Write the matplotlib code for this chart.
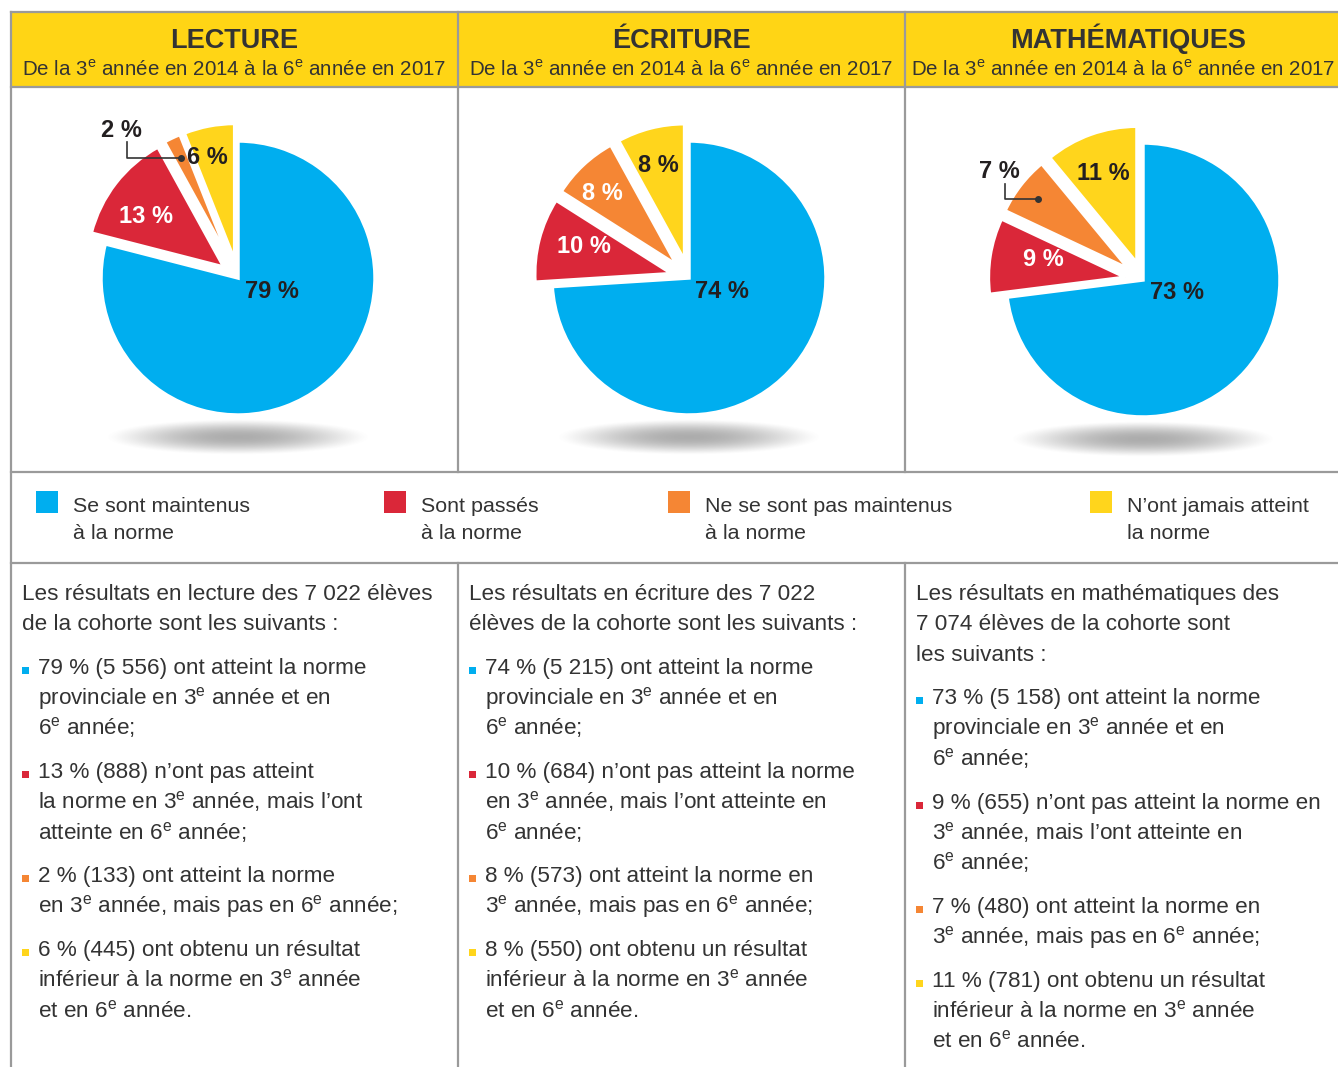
import numpy as np
import matplotlib
matplotlib.use('Agg')
import matplotlib.pyplot as plt
from matplotlib.patches import Rectangle

plt.rcParams['font.family'] = ['Liberation Sans', 'DejaVu Sans']
plt.rcParams['mathtext.fontset'] = 'custom'
plt.rcParams['mathtext.rm'] = 'Liberation Sans'
plt.rcParams['mathtext.bf'] = 'Liberation Sans:bold'

# Données
SUJETS = ['LECTURE', 'ÉCRITURE', 'MATHÉMATIQUES']
SOUS_TITRE = r'De la 3$^{\mathrm{e}}$ année en 2014 à la 6$^{\mathrm{e}}$ année en 2017'
CATEGORIES = [['Se sont maintenus', 'à la norme'],
              ['Sont passés', 'à la norme'],
              ['Ne se sont pas maintenus', 'à la norme'],
              ['N’ont jamais atteint', 'la norme']]
COULEURS = ['#00AEEF', '#DA2739', '#F58634', '#FFD51C']

POURCENT_LECTURE = [79, 13, 2, 6]
POURCENT_ECRITURE = [74, 10, 8, 8]
POURCENT_MATHS = [73, 9, 7, 11]
EFFECTIF_LECTURE = [5556, 888, 133, 445]
EFFECTIF_ECRITURE = [5215, 684, 573, 550]
EFFECTIF_MATHS = [5158, 655, 480, 781]
TOTAUX = [7022, 7022, 7074]

POURCENTS = [POURCENT_LECTURE, POURCENT_ECRITURE, POURCENT_MATHS]
EFFECTIFS = [EFFECTIF_LECTURE, EFFECTIF_ECRITURE, EFFECTIF_MATHS]

E = r'$^{\mathrm{e}}$'


def nb(n):
    return f'{n:,}'.replace(',', ' ')


def intro(i):
    p, c = POURCENTS[i], EFFECTIFS[i]
    return [f'{p[0]} % ({nb(c[0])}) ont atteint la norme', f'{p[1]} % ({nb(c[1])})',
            f'{p[2]} % ({nb(c[2])}) ont atteint la norme', f'{p[3]} % ({nb(c[3])}) ont obtenu un résultat']


i0, i1, i2 = intro(0), intro(1), intro(2)
TEXTES = [
    {'entete': [f'Les résultats en lecture des {nb(TOTAUX[0])} élèves',
                'de la cohorte sont les suivants :'],
     'puces': [[i0[0], f'provinciale en 3{E} année et en', f'6{E} année;'],
               [i0[1] + ' n’ont pas atteint', f'la norme en 3{E} année, mais l’ont', f'atteinte en 6{E} année;'],
               [i0[2], f'en 3{E} année, mais pas en 6{E} année;'],
               [i0[3], f'inférieur à la norme en 3{E} année', f'et en 6{E} année.']]},
    {'entete': [f'Les résultats en écriture des {nb(TOTAUX[1])}',
                'élèves de la cohorte sont les suivants :'],
     'puces': [[i1[0], f'provinciale en 3{E} année et en', f'6{E} année;'],
               [i1[1] + ' n’ont pas atteint la norme', f'en 3{E} année, mais l’ont atteinte en', f'6{E} année;'],
               [i1[2] + ' en', f'3{E} année, mais pas en 6{E} année;'],
               [i1[3], f'inférieur à la norme en 3{E} année', f'et en 6{E} année.']]},
    {'entete': ['Les résultats en mathématiques des',
                f'{nb(TOTAUX[2])} élèves de la cohorte sont', 'les suivants :'],
     'puces': [[i2[0], f'provinciale en 3{E} année et en', f'6{E} année;'],
               [i2[1] + ' n’ont pas atteint la norme en', f'3{E} année, mais l’ont atteinte en', f'6{E} année;'],
               [i2[2] + ' en', f'3{E} année, mais pas en 6{E} année;'],
               [i2[3], f'inférieur à la norme en 3{E} année', f'et en 6{E} année.']]},
]

# Mise en page (pixels)
W, H = 1338, 1067
COL_X = [11, 458, 905]
COL_W = 447
CENTRES = [(238, 278), (689, 278), (1143, 280)]
RAYON = 137
BOITE = 2.8  # unités de la tarte dans un axe

# positions des étiquettes (unités de la tarte), None = pas d'étiquette interne
ETIQUETTES = [
    [(0.25, -0.10), (-0.67, 0.45), None, (-0.22, 0.88)],
    [(0.24, -0.095), (-0.77, 0.23), (-0.63, 0.62), (-0.22, 0.82)],
    [(0.25, -0.09), (-0.73, 0.15), None, (-0.29, 0.78)],
]
EXTERNES = [(2, (-0.85, 1.08)), None, (2, (-1.05, 0.79))]
COUL_ETIQ = ['#231F20', 'white', 'white', '#231F20']

GRIS = '#9a9a9a'
TEXTE = '#333333'

fig = plt.figure(figsize=(W / 100, H / 100), dpi=100)
bg = fig.add_axes([0, 0, 1, 1])
bg.set_xlim(0, W)
bg.set_ylim(H, 0)
bg.axis('off')

# bandeau jaune
bg.add_patch(Rectangle((11, 12), W, 75, facecolor='#FFD515', edgecolor='none', zorder=0))

# cadres
lw = 1.6
for y in [12, 87, 472, 563]:
    bg.plot([11, W], [y, y], color=GRIS, lw=lw, zorder=2)
bg.plot([11, 11], [12, H], color=GRIS, lw=lw, zorder=2)
for x in COL_X[1:]:
    bg.plot([x, x], [12, 472], color=GRIS, lw=lw, zorder=2)
    bg.plot([x, x], [563, H], color=GRIS, lw=lw, zorder=2)

# en-têtes
renderer = fig.canvas.get_renderer()
for k, sujet in enumerate(SUJETS):
    cx = COL_X[k] + COL_W / 2
    bg.text(cx, 48, sujet, ha='center', va='baseline', fontsize=19.5, fontweight='bold', color=TEXTE)
    st = bg.text(cx, 76, SOUS_TITRE, ha='center', va='baseline', fontsize=14.8, color=TEXTE)
    larg = st.get_window_extent(renderer).width
    if cx + larg / 2 > W - 3:  # la dernière colonne dépasse le bord
        st.set_x(W - 3 - larg / 2)

# tartes
gx = np.linspace(-1, 1, 240)
gy = np.linspace(-1, 1, 80)
GX, GY = np.meshgrid(gx, gy)
ombre = np.zeros((80, 240, 4))
ombre[..., :3] = 0.35
ombre[..., 3] = np.clip(1 - (GX ** 2 + GY ** 2), 0, 1) ** 1.4 * 0.5

for k in range(3):
    cx, cy = CENTRES[k]
    half = BOITE / 2 * RAYON
    ax = fig.add_axes([(cx - half) / W, 1 - (cy + half) / H, 2 * half / W, 2 * half / H])
    wedges, _ = ax.pie(POURCENTS[k], colors=COULEURS, startangle=90, counterclock=False,
                       explode=[0, 0.13, 0.13, 0.13],
                       wedgeprops=dict(edgecolor='white', linewidth=2.5))
    ax.imshow(ombre, extent=(-0.97, 0.97, -1.29, -1.03), zorder=0, interpolation='bilinear')
    ax.set_xlim(-BOITE / 2, BOITE / 2)
    ax.set_ylim(-BOITE / 2, BOITE / 2)
    ax.set_aspect('equal')
    ax.axis('off')

    for j, pos in enumerate(ETIQUETTES[k]):
        if pos is None:
            continue
        ax.text(pos[0], pos[1], f'{POURCENTS[k][j]} %', ha='center', va='center',
                fontsize=17, fontweight='bold', color=COUL_ETIQ[j])

    if EXTERNES[k] is not None:
        j, (lx, ly) = EXTERNES[k]
        w = wedges[j]
        th = np.radians((w.theta1 + w.theta2) / 2)
        px = w.center[0] + 0.84 * np.cos(th)
        py = w.center[1] + 0.84 * np.sin(th)
        vx = lx + 0.04
        ax.plot([vx, vx, px], [ly - 0.09, py, py], color='#333333', lw=1.2)
        ax.plot(px, py, 'o', color='#333333', ms=4)
        ax.text(lx, ly, f'{POURCENTS[k][j]} %', ha='center', va='center',
                fontsize=17, fontweight='bold', color='#231F20')

# légende
LEG_X = [36, 384, 668, 1090]
for c, x in enumerate(LEG_X):
    bg.add_patch(Rectangle((x, 491), 22, 22, facecolor=COULEURS[c], edgecolor='none'))
    bg.text(x + 37, 512, CATEGORIES[c][0], ha='left', va='baseline', fontsize=15.4, color=TEXTE)
    bg.text(x + 37, 539, CATEGORIES[c][1], ha='left', va='baseline', fontsize=15.4, color=TEXTE)

# textes
PAS = 30.4
PARA = 43.5
for k in range(3):
    x0 = COL_X[k] + 11
    y = 600
    for ligne in TEXTES[k]['entete']:
        bg.text(x0, y, ligne, ha='left', va='baseline', fontsize=16.2, color=TEXTE)
        y += PAS
    y += PARA - PAS
    for c, puce in enumerate(TEXTES[k]['puces']):
        bg.add_patch(Rectangle((x0, y - 7), 7, 7, facecolor=COULEURS[c], edgecolor='none'))
        for ligne in puce:
            bg.text(x0 + 16, y, ligne, ha='left', va='baseline', fontsize=16.2, color=TEXTE)
            y += PAS
        y += PARA - PAS

fig.savefig('out.png', dpi=100)
